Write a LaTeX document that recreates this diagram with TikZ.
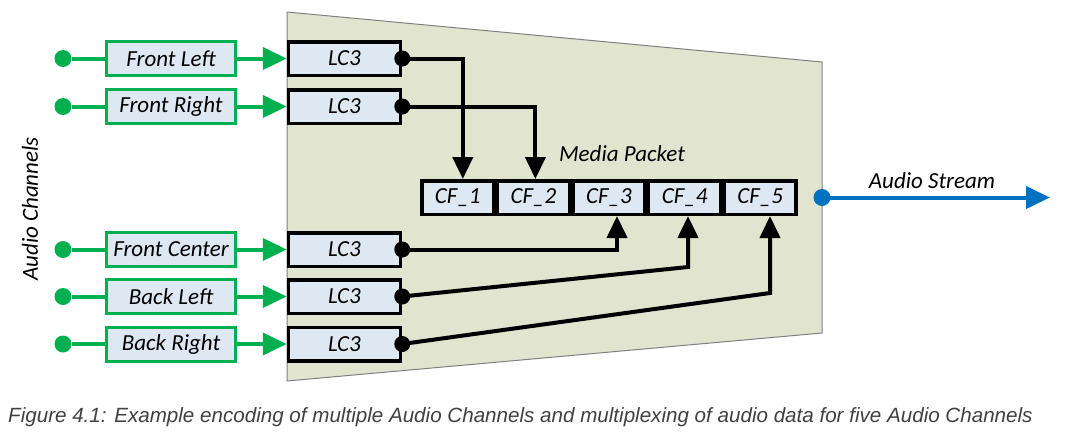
\documentclass[tikz,border=0pt]{standalone}
\usepackage{fontspec}
\setmainfont{Carlito}
\newfontfamily\capfont{Liberation Sans}
\usetikzlibrary{arrows.meta}
\definecolor{grn}{HTML}{00B050}
\definecolor{boxfill}{HTML}{DEE8F3}
\definecolor{trap}{HTML}{E1E5CF}
\definecolor{blu}{HTML}{0070C0}
\definecolor{capgray}{HTML}{404040}
\tikzset{
  lbl/.style={font=\fontsize{23}{26}\selectfont\itshape},
  srcdot/.style={circle,fill=grn,inner sep=0pt,minimum size=17pt},
  chbox/.style={lbl,draw=grn,line width=3pt,fill=boxfill,minimum width=129pt,minimum height=34pt,inner sep=0pt},
  lcbox/.style={lbl,draw=black,line width=3.5pt,fill=boxfill,minimum width=112pt,minimum height=33.5pt,inner sep=0pt},
  cfbox/.style={lbl,draw=black,line width=3.5pt,fill=boxfill,minimum width=72pt,minimum height=33.5pt,inner sep=0pt},
  gline/.style={draw=grn,line width=4pt},
  garrow/.style={gline,-{Triangle[length=24pt,width=22pt]}},
  conn/.style={draw=black,line width=4pt,-{Triangle[length=22pt,width=20pt]}},
  bdot/.style={circle,fill=black,inner sep=0pt,minimum size=16pt},
}
\begin{document}
\begin{tikzpicture}[x=1pt,y=-1pt]
\useasboundingbox (0,0) rectangle (1066,437);
% trapezoid
\draw[fill=trap,draw=gray,line width=1pt] (287,12) -- (822,62) -- (822,333) -- (287,381) -- cycle;
% rows
\foreach \i/\y/\t in {1/58.5/Front Left,2/106.5/Front Right,3/249.5/Front Center,4/296.5/Back Left,5/344/Back Right}{
  \node[srcdot] (s\i) at (63,\y) {};
  \node[chbox] (c\i) at (171,\y) {\t};
  \node[lcbox] (l\i) at (344.5,\y) {LC3};
  \draw[gline] (s\i) -- (c\i.west);
  \draw[garrow] (c\i.east) -- (l\i.west);
}
% CF boxes
\foreach \i/\x in {1/457.8,2/533.4,3/609,4/684.6,5/760.2}{
  \node[cfbox] (cf\i) at (\x,197.5) {CF\_\i};
}
\node[lbl] (mp) at (622,154) {Media Packet};
% connectors
\draw[conn] (l1.east) -| ([xshift=5pt]cf1.north);
\draw[conn] (l2.east) -| ([xshift=2pt]cf2.north);
\draw[conn] (l3.east) -| ([xshift=8pt]cf3.south);
\coordinate (b4) at (688,267);
\coordinate (b5) at (770,293);
\draw[conn] (l4.east) -- (b4) -- (b4 |- cf4.south);
\draw[conn] (l5.east) -- (b5) -- (b5 |- cf5.south);
\foreach \i in {1,...,5}{\node[bdot] at (l\i.east) {};}
% audio stream
\coordinate (out) at (822,197.5);
\coordinate (oend) at (1050,197.5);
\draw[blu,line width=4pt,-{Triangle[length=24pt,width=22pt]}] (out) -- (oend);
\node[circle,fill=blu,inner sep=0pt,minimum size=17pt] (od) at (out) {};
\node[lbl] (as) at (932,181) {Audio Stream};
% audio channels
\node[lbl,rotate=90] (ac) at (30,209) {Audio Channels};
% caption
\node[anchor=base west,inner sep=0pt,text=capgray,font=\capfont\itshape\fontsize{20.6}{24}\selectfont] (cap) at (8,422) {Figure 4.1: Example encoding of multiple Audio Channels and multiplexing of audio data for five Audio Channels};
\end{tikzpicture}
\end{document}
